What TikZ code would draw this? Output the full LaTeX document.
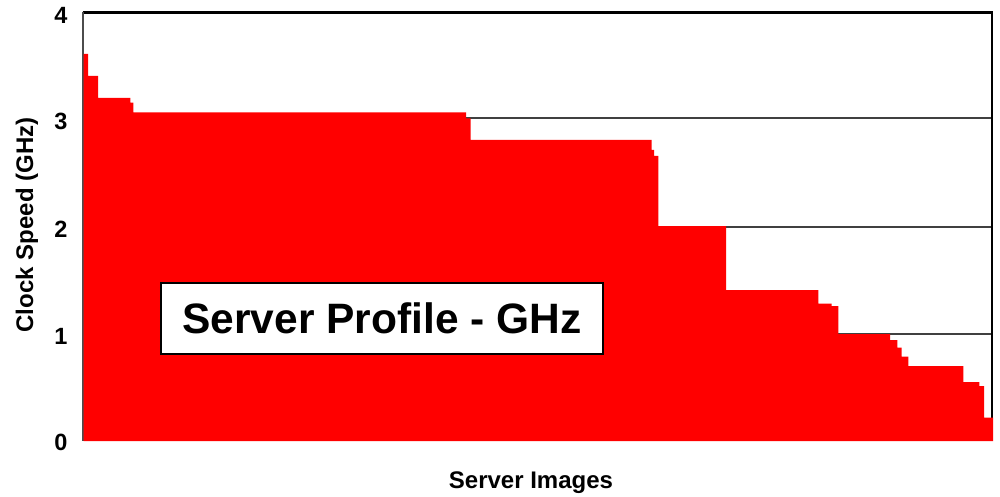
\documentclass[tikz,border=0pt]{standalone}
\usepackage{fontspec}
\setmainfont{Liberation Sans}
\begin{document}
\begin{tikzpicture}[x=1pt,y=-1pt,
  grid/.style={draw=black!75,line width=2pt},
  frame/.style={draw=black,line width=2.2pt},
  axisline/.style={draw=black!70,line width=2pt},
  bars/.style={fill=red,draw=none},
  ticklbl/.style={font=\fontsize{23.5}{25}\selectfont\bfseries,inner sep=0pt},
  axislbl/.style={font=\fontsize{24}{26}\selectfont\bfseries,inner sep=0pt},
  titlebox/.style={draw=black,fill=white,line width=2pt,minimum width=442pt,minimum height=71pt,inner sep=0pt,font=\fontsize{42.5}{45}\selectfont\bfseries}]
\path[use as bounding box,fill=white] (0,0) rectangle (1000,497);
% gridlines
\draw[grid] (82.7,118.3) -- (992.3,118.3);
\draw[grid] (82.7,226.7) -- (992.3,226.7);
\draw[grid] (82.7,334.3) -- (992.3,334.3);
% frame
\draw[frame] (82.7,12.5) -- (992.3,12.5) -- (992.3,441);
\draw[axisline] (82.7,12.5) -- (82.7,441);
% bars
\fill[bars] (83.5,441) -- (83.5,54) -- (88,54) -- (88,76) -- (98,76) -- (98,98)
  -- (130.3,98) -- (130.3,102.7) -- (133.3,102.7) -- (133.3,112.3)
  -- (466,112.3) -- (466,118.3) -- (470.7,118.3) -- (470.7,140)
  -- (651.7,140) -- (651.7,150) -- (654,150) -- (654,156) -- (658.3,156) -- (658.3,226)
  -- (726,226) -- (726,290) -- (818.3,290) -- (818.3,303.5) -- (831.7,303.5) -- (831.7,306)
  -- (838.3,306) -- (838.3,334) -- (890,334) -- (890,340) -- (897.3,340) -- (897.3,347.7)
  -- (901.7,347.7) -- (901.7,356.5) -- (908.3,356.5) -- (908.3,366) -- (963.3,366)
  -- (963.3,382) -- (979.3,382) -- (979.3,386) -- (984,386) -- (984,417.7)
  -- (993,417.7) -- (993,441) -- cycle;
% tick labels
\node[ticklbl] (t4) at (61,15) {4};
\node[ticklbl] (t3) at (61,121.5) {3};
\node[ticklbl] (t2) at (61,229) {2};
\node[ticklbl] (t1) at (61,336.5) {1};
\node[ticklbl] (t0) at (61,442) {0};
% axis labels
\node[axislbl,rotate=90] (ylab) at (27,225) {Clock Speed (GHz)};
\node[axislbl] (xlab) at (531,483) {Server Images};
% title box
\node[titlebox] (title) at (382,318.3) {Server Profile - GHz};
\end{tikzpicture}
\end{document}
